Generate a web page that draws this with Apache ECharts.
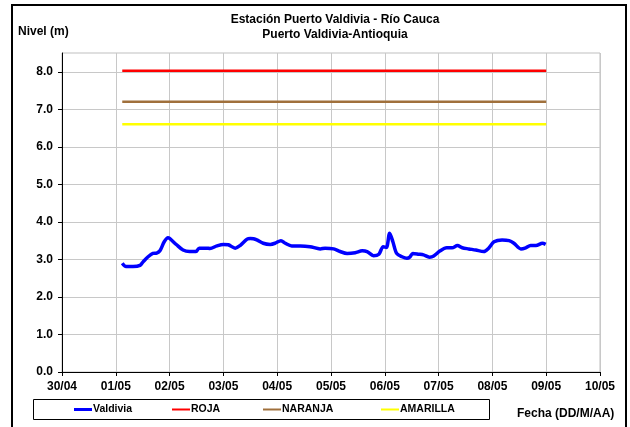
<!DOCTYPE html>
<html>
<head>
<meta charset="utf-8">
<script src="https://cdn.jsdelivr.net/npm/echarts@6/dist/echarts.min.js"></script>
<style>
html,body{margin:0;padding:0;background:#fff;}
#c{width:630px;height:427px;}
</style>
</head>
<body>
<div id="c"></div>
<script>
// X tick labels (days from 30/04)
const xTickLabels = ['30/04','01/05','02/05','03/05','04/05','05/05','06/05','07/05','08/05','09/05','10/05'];
// Valdivia level: time in days since 30/04 00:00, value in m
const valdiviaT = [1.12,1.19,1.32,1.45,1.51,1.60,1.69,1.76,1.82,1.90,1.97,2.00,2.13,2.25,2.37,2.49,2.55,2.69,2.75,2.88,3.00,3.09,3.22,3.31,3.44,3.50,3.56,3.62,3.74,3.87,3.96,4.07,4.15,4.27,4.43,4.61,4.80,4.89,5.05,5.17,5.30,5.45,5.58,5.67,5.79,5.89,5.97,6.03,6.09,6.15,6.22,6.32,6.41,6.47,6.52,6.63,6.72,6.83,6.91,7.03,7.15,7.25,7.35,7.44,7.56,7.69,7.84,7.93,8.03,8.18,8.31,8.40,8.53,8.62,8.71,8.81,8.93,8.99];
const valdiviaV = [2.90,2.81,2.81,2.84,2.94,3.07,3.16,3.17,3.23,3.47,3.58,3.56,3.39,3.25,3.21,3.21,3.30,3.30,3.29,3.36,3.40,3.39,3.30,3.37,3.54,3.56,3.55,3.52,3.43,3.40,3.43,3.50,3.43,3.36,3.36,3.34,3.28,3.30,3.28,3.21,3.16,3.18,3.23,3.21,3.10,3.14,3.34,3.32,3.70,3.47,3.16,3.07,3.03,3.07,3.16,3.14,3.12,3.06,3.09,3.23,3.31,3.31,3.37,3.31,3.28,3.25,3.21,3.30,3.47,3.52,3.50,3.43,3.28,3.31,3.37,3.37,3.43,3.40];
// Alert thresholds
const thresholdT = [1.12, 9.0];
const rojaV = [8.03, 8.03];
const naranjaV = [7.2, 7.2];
const amarillaV = [6.6, 6.6];
const yTickValues = [0,1,2,3,4,5,6,7,8];

const zip = (xs, ys) => xs.map((x, i) => [x, ys[i]]);
const FONT = 'Liberation Sans, Arial, sans-serif';
const chart = echarts.init(document.getElementById('c'), null, {renderer: 'canvas'});

function legendItem(name, left, h) {
  return {
    data: [name], left: left, top: 404, orient: 'horizontal',
    icon: 'rect', itemWidth: 18, itemHeight: h, itemGap: 0, padding: 0,
    selectedMode: false,
    textStyle: {fontFamily: FONT, fontWeight: 'bold', fontSize: 10.5, color: '#000', padding: [0,0,0,-4]}
  };
}

chart.setOption({
  animation: false,
  backgroundColor: '#fff',
  title: {
    text: 'Estación Puerto Valdivia - Río Cauca\nPuerto Valdivia-Antioquia',
    left: 330, top: 7, textAlign: 'center',
    textStyle: {fontFamily: FONT, fontWeight: 'bold', fontSize: 12, lineHeight: 15, color: '#000'}
  },
  grid: {left: 62, right: 30, top: 53, bottom: 55, show: true, borderColor: '#BFBFBF', borderWidth: 1},
  xAxis: {
    type: 'value', min: 0, max: 10, interval: 1,
    axisLine: {show: true, onZero: false, lineStyle: {color: '#000', width: 1}},
    axisTick: {show: true, inside: false, length: 4, lineStyle: {color: '#000'}},
    axisLabel: {fontFamily: FONT, fontWeight: 'bold', fontSize: 12, color: '#000', margin: 9,
      formatter: v => xTickLabels[Math.round(v)] || ''},
    splitLine: {show: true, lineStyle: {color: '#C8C8C8', width: 1}}
  },
  yAxis: {
    type: 'value', min: 0, max: 8.5, interval: 1,
    axisLine: {show: true, lineStyle: {color: '#000', width: 1}},
    axisTick: {show: true, inside: false, length: 4, customValues: yTickValues, lineStyle: {color: '#000'}},
    axisLabel: {fontFamily: FONT, fontWeight: 'bold', fontSize: 12, color: '#000', margin: 9,
      customValues: yTickValues, formatter: v => v.toFixed(1)},
    splitLine: {show: true, lineStyle: {color: '#C8C8C8', width: 1}}
  },
  legend: [
    legendItem('Valdivia', 74, 3),
    legendItem('ROJA', 172, 2),
    legendItem('NARANJA', 263, 2),
    legendItem('AMARILLA', 381, 2)
  ],
  graphic: [
    {type: 'rect', shape: {x: 12, y: 5, width: 614, height: 430}, style: {fill: 'none', stroke: '#000', lineWidth: 2}, silent: true, z: 100},
    {type: 'rect', shape: {x: 33.5, y: 399.5, width: 456, height: 20}, style: {fill: 'none', stroke: '#000', lineWidth: 1}, silent: true, z: 0},
    {type: 'text', left: 18, top: 26, style: {text: 'Nivel (m)', font: 'bold 12px ' + FONT, fill: '#000'}},
    {type: 'text', left: 517, top: 408, style: {text: 'Fecha (DD/M/AA)', font: 'bold 12px ' + FONT, fill: '#000'}}
  ],
  series: [
    {name: 'Valdivia', type: 'line', data: zip(valdiviaT, valdiviaV), showSymbol: false, smooth: 0.3,
      lineStyle: {color: '#0000FF', width: 3.5}, itemStyle: {color: '#0000FF'}, z: 5},
    {name: 'ROJA', type: 'line', data: zip(thresholdT, rojaV), showSymbol: false,
      lineStyle: {color: '#FF0000', width: 2.5}, itemStyle: {color: '#FF0000'}},
    {name: 'NARANJA', type: 'line', data: zip(thresholdT, naranjaV), showSymbol: false,
      lineStyle: {color: '#A0703C', width: 2.5}, itemStyle: {color: '#A0703C'}},
    {name: 'AMARILLA', type: 'line', data: zip(thresholdT, amarillaV), showSymbol: false,
      lineStyle: {color: '#FFFF00', width: 2.5}, itemStyle: {color: '#FFFF00'}}
  ]
});
</script>
</body>
</html>
